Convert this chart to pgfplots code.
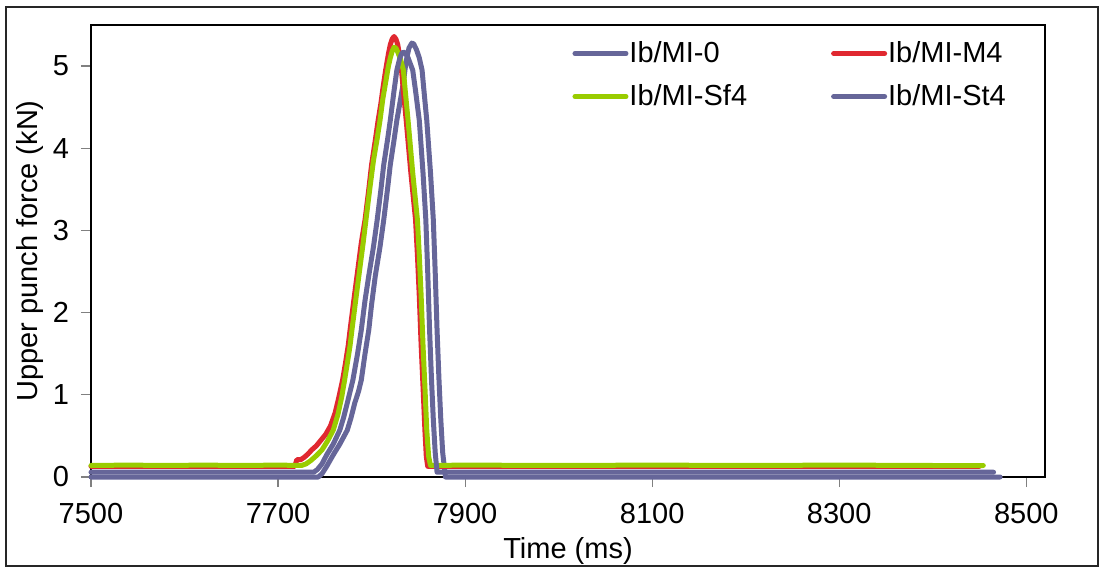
\documentclass[border=0pt]{standalone}
\usepackage{fontspec}
\setmainfont{Liberation Sans}
\usepackage{pgfplots}
\pgfplotsset{compat=1.18}
\definecolor{cpurple}{RGB}{102,102,153}
\definecolor{cred}{RGB}{224,40,48}
\definecolor{cgreen}{RGB}{153,204,0}
\begin{document}
\begin{tikzpicture}
\useasboundingbox (-45.5pt,-46pt) rectangle (504pt,238.5pt);
\draw[black!85, line width=0.6pt] (-42.5pt,-44.5pt) rectangle (503.5pt,235pt);
\begin{axis}[
  at={(0,0)}, anchor=south west,
  scale only axis, width=477pt, height=226pt,
  xmin=7500, xmax=8520, ymin=0, ymax=5.5,
  xtick={7500,7700,...,8500}, ytick={0,1,...,5},
  axis line style={black, line width=1pt},
  tick style={gray, line width=0.6pt},
  tick align=outside, major tick length=5pt,
  tick pos=left,
  font=\fontsize{14.5}{17}\selectfont,
  /pgf/number format/assume math mode=true,
  /pgf/number format/1000 sep={},
  xticklabel style={yshift=-4.5pt},
  yticklabel style={xshift=-2.5pt},
  clip=false,
  xlabel={Time (ms)}, ylabel={Upper punch force (kN)},
  xlabel style={at={(axis description cs:0.5,-0.163)}, anchor=center},
  ylabel style={at={(axis description cs:-0.064,0.5)}, anchor=center},
  legend style={draw=none, fill=none, at={(axis description cs:0.498,0.982)}, anchor=north west,
    font=\fontsize{14.5}{17}\selectfont, row sep=5.5pt},
  legend columns=2,
  legend cell align=left,
  /tikz/every even column/.append style={column sep=40pt},
  /tikz/every odd column/.append style={column sep=-1.5pt},
  legend image code/.code={\draw[#1, line cap=round] (0pt,0pt) -- (25.5pt,0pt);},
  every axis plot/.append style={line width=2.5pt, line join=round, line cap=round},
]
\addplot[cpurple] coordinates {
(7500,0.0)(7743,0.0)(7747,0.04)(7752,0.13)(7759,0.27)(7766,0.4)(7774,0.57)(7778,0.72)(7782,0.9)(7786,1.04)(7789,1.18)(7793,1.5)(7797,1.79)(7800,2.1)(7804,2.45)(7809,2.8)(7813,3.13)(7817,3.5)(7820,3.8)(7824,4.1)(7827,4.34)(7831,4.6)(7834,4.8)(7836,4.98)(7838,5.12)(7840,5.22)(7843,5.28)(7845,5.27)(7848,5.2)(7851,5.1)(7854,4.95)(7856,4.7)(7859,4.34)(7863,3.7)(7866,3.13)(7868,2.5)(7870,1.79)(7872,1.2)(7874,0.7)(7876,0.3)(7879,0.0)(8472,0.0)};
\addlegendentry{Ib/MI-0}
\addplot[cred] coordinates {
(7500,0.13)(7600,0.13)(7718,0.13)(7720,0.21)(7724,0.21)(7728,0.24)(7732,0.28)(7736,0.33)(7741,0.38)(7746,0.45)(7751,0.52)(7756,0.62)(7761,0.78)(7765,0.97)(7769,1.18)(7772,1.38)(7775,1.6)(7777,1.79)(7781,2.15)(7785,2.5)(7789,2.85)(7793,3.13)(7797,3.5)(7800,3.8)(7804,4.1)(7807,4.34)(7810,4.55)(7812,4.72)(7815,4.95)(7818,5.15)(7820,5.26)(7822,5.33)(7824,5.36)(7826,5.33)(7828,5.26)(7830,5.12)(7832,4.95)(7834,4.7)(7837,4.34)(7842,3.7)(7847,3.13)(7849,2.7)(7851,2.2)(7853,1.6)(7855,1.1)(7857,0.57)(7858.5,0.25)(7860,0.13)(8000,0.13)(8450,0.13)};
\addlegendentry{Ib/MI-M4}
\addplot[cgreen] coordinates {
(7500,0.14)(7540,0.145)(7580,0.14)(7620,0.145)(7660,0.14)(7700,0.145)(7725,0.14)(7730,0.16)(7735,0.2)(7741,0.26)(7747,0.33)(7753,0.44)(7759,0.57)(7764,0.76)(7768,0.97)(7771,1.17)(7774,1.38)(7777,1.6)(7779,1.79)(7783,2.15)(7787,2.5)(7791,2.85)(7794,3.13)(7798,3.5)(7802,3.85)(7806,4.12)(7809,4.34)(7812,4.6)(7815,4.8)(7818,5.0)(7820,5.1)(7822,5.18)(7824,5.23)(7826,5.22)(7828,5.17)(7831,5.08)(7834,4.95)(7836,4.7)(7839,4.34)(7844,3.7)(7849,3.13)(7851,2.7)(7853,2.2)(7855,1.6)(7857,1.1)(7859,0.57)(7861,0.25)(7863,0.14)(7900,0.145)(8000,0.14)(8100,0.145)(8200,0.14)(8300,0.145)(8400,0.14)(8454,0.14)};
\addlegendentry{Ib/MI-Sf4}
\addplot[cpurple] coordinates {
(7500,0.058)(7738,0.058)(7742,0.09)(7747,0.16)(7752,0.27)(7759,0.4)(7766,0.57)(7770,0.72)(7774,0.9)(7777,1.04)(7780,1.18)(7785,1.5)(7789,1.79)(7793,2.15)(7797,2.45)(7802,2.8)(7806,3.13)(7810,3.5)(7813,3.8)(7817,4.1)(7820,4.34)(7824,4.7)(7827,4.95)(7830,5.09)(7832,5.15)(7834,5.17)(7836,5.16)(7839,5.1)(7841,5.04)(7844,4.95)(7847,4.7)(7851,4.34)(7855,3.7)(7858,3.13)(7860,2.5)(7862,1.79)(7864,1.2)(7866,0.7)(7868,0.3)(7870,0.058)(8465,0.058)};
\addlegendentry{Ib/MI-St4}
\end{axis}
\end{tikzpicture}
\end{document}
